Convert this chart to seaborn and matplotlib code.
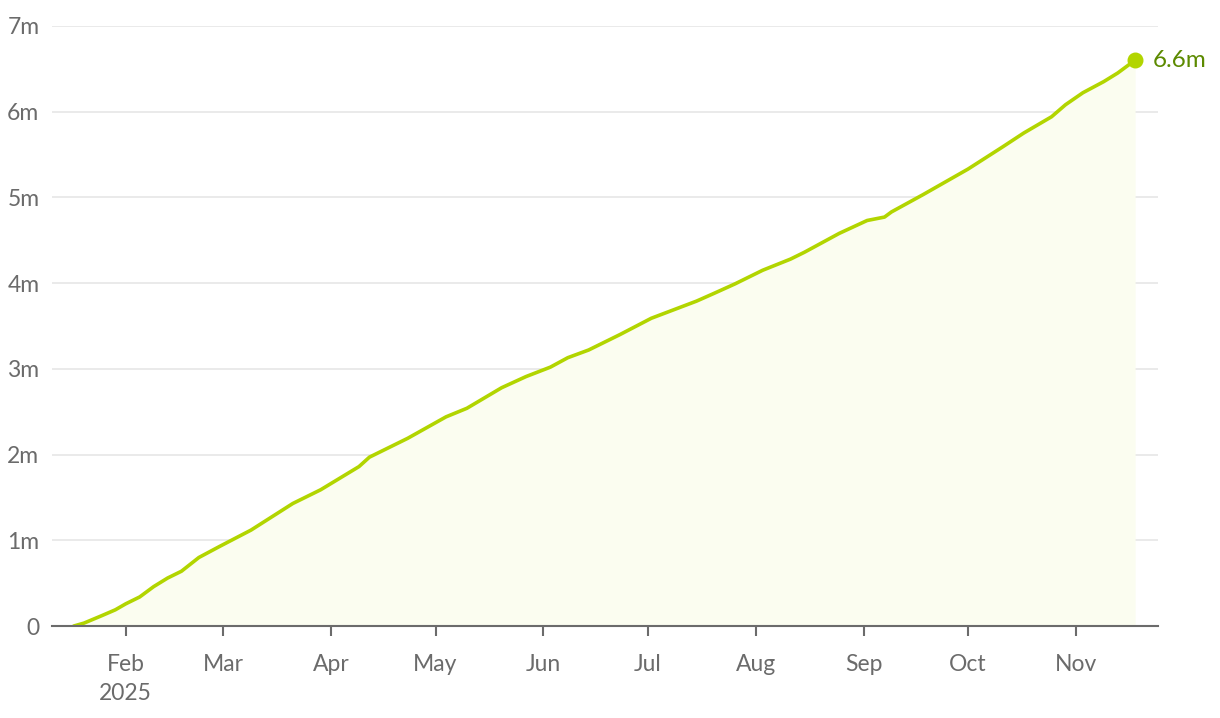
import pandas as pd
import seaborn as sns
import matplotlib.pyplot as plt
import matplotlib.dates as mdates
from matplotlib.ticker import FuncFormatter

# cumulative total (millions)
dates = ['2025-01-17', '2025-01-20', '2025-01-25', '2025-01-29', '2025-02-01',
         '2025-02-05', '2025-02-09', '2025-02-13', '2025-02-17', '2025-02-22',
         '2025-02-28', '2025-03-09', '2025-03-21', '2025-03-29', '2025-04-09',
         '2025-04-12', '2025-04-23', '2025-05-04', '2025-05-10', '2025-05-20',
         '2025-05-27', '2025-06-03', '2025-06-08', '2025-06-14', '2025-06-23',
         '2025-07-02', '2025-07-15', '2025-07-20', '2025-07-26', '2025-08-03',
         '2025-08-11', '2025-08-15', '2025-08-25', '2025-09-02', '2025-09-07',
         '2025-09-09', '2025-09-18', '2025-10-01', '2025-10-11', '2025-10-17',
         '2025-10-25', '2025-10-29', '2025-11-03', '2025-11-09', '2025-11-13',
         '2025-11-18']
values = [0.0, 0.035, 0.12, 0.19, 0.26,
          0.34, 0.46, 0.56, 0.64, 0.80,
          0.93, 1.12, 1.43, 1.59, 1.86,
          1.97, 2.19, 2.44, 2.54, 2.78,
          2.91, 3.02, 3.13, 3.22, 3.40,
          3.59, 3.79, 3.88, 3.99, 4.15,
          4.28, 4.36, 4.58, 4.73, 4.77,
          4.83, 5.03, 5.33, 5.59, 5.75,
          5.94, 6.08, 6.22, 6.35, 6.45,
          6.60]
end_label = '6.6m'

df = pd.DataFrame({'date': pd.to_datetime(dates), 'value': values})

sns.set_style('white')
plt.rcParams['font.family'] = ['Lato', 'DejaVu Sans']

line_c = '#b2d500'
grey = '#6b6b6b'

fig = plt.figure(figsize=(12.2, 7.18), dpi=100)
ax = fig.add_axes([0.0426, 0.128, 0.9066, 0.836])

ax.fill_between(df['date'], df['value'], 0, color='#fbfdf0', lw=0, zorder=1)
sns.lineplot(data=df, x='date', y='value', color=line_c, lw=2.6, ax=ax, zorder=3)
ax.scatter(df['date'].iloc[-1], df['value'].iloc[-1], s=110, color=line_c,
           zorder=4, clip_on=False)
ax.annotate(end_label, (df['date'].iloc[-1], df['value'].iloc[-1]),
            xytext=(13, 0), textcoords='offset points', va='center', ha='left',
            color='#5c8a00', fontsize=17.5, annotation_clip=False)

ax.set_xlim(pd.Timestamp('2025-01-10 19:00'), pd.Timestamp('2025-11-24 14:00'))
ax.set_ylim(0, 7)
ax.set_yticks(range(0, 8))
ax.yaxis.set_major_formatter(FuncFormatter(lambda v, p: '0' if v == 0 else f'{int(v)}m'))

ax.xaxis.set_major_locator(mdates.MonthLocator(bymonthday=1))
ax.xaxis.set_major_formatter(
    FuncFormatter(lambda v, p: mdates.num2date(v).strftime('%b') +
                  ('\n2025' if mdates.num2date(v).month == 2 else '')))
labels_x = [t for t in ax.get_xticks()]
ax.set_xticks([t for t in labels_x if mdates.num2date(t).month >= 2])
for lab in ax.get_xticklabels():
    lab.set_linespacing(1.45)

ax.grid(axis='y', color='#e6e6e6', lw=1.2, zorder=0)
ax.set_axisbelow(True)
for s in ['top', 'right', 'left']:
    ax.spines[s].set_visible(False)
ax.spines['bottom'].set_color(grey)
ax.spines['bottom'].set_linewidth(1.5)
ax.spines['bottom'].set_zorder(5)

ax.tick_params(axis='x', bottom=True, colors=grey, length=7, width=1.5,
               pad=13, labelsize=16.5)
ax.tick_params(axis='y', left=False, colors=grey, length=0, pad=9, labelsize=16.5)
ax.set_xlabel('')
ax.set_ylabel('')

fig.savefig('out.png', dpi=100)
